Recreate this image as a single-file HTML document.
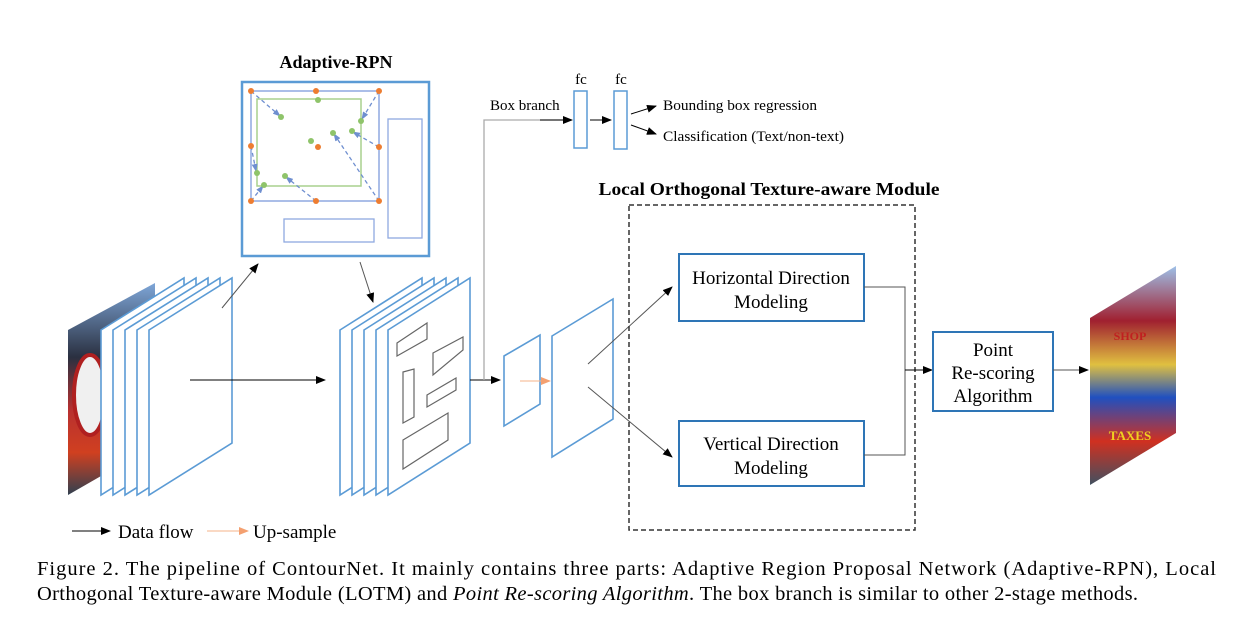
<!DOCTYPE html>
<html><head><meta charset="utf-8"><style>
html,body{margin:0;padding:0;background:#fff;}
svg{display:block;font-family:"Liberation Serif",serif;}
</style></head><body>
<svg width="1256" height="618" viewBox="0 0 1256 618" xmlns="http://www.w3.org/2000/svg">
<defs>
<marker id="ab" markerWidth="10" markerHeight="8" refX="9" refY="4" orient="auto" markerUnits="userSpaceOnUse"><path d="M0,0 L10,4 L0,8 z" fill="#000"/></marker>
<marker id="ao" markerWidth="10" markerHeight="8" refX="9" refY="4" orient="auto" markerUnits="userSpaceOnUse"><path d="M0,0 L10,4 L0,8 z" fill="#f4a070"/></marker>
<marker id="abl" markerWidth="8" markerHeight="6" refX="7" refY="3" orient="auto" markerUnits="userSpaceOnUse"><path d="M0,0 L8,3 L0,6 z" fill="#6f8fd0"/></marker>
<linearGradient id="ph1" x1="0" y1="0" x2="0" y2="1"><stop offset="0" stop-color="#7ea6d8"/><stop offset="0.35" stop-color="#2a3040"/><stop offset="0.6" stop-color="#b83030"/><stop offset="0.8" stop-color="#d04020"/><stop offset="1" stop-color="#304050"/></linearGradient>
<linearGradient id="ph2" x1="0" y1="0" x2="0" y2="1"><stop offset="0" stop-color="#9ec0e8"/><stop offset="0.25" stop-color="#a02030"/><stop offset="0.45" stop-color="#e0c040"/><stop offset="0.6" stop-color="#2050c0"/><stop offset="0.8" stop-color="#d03020"/><stop offset="1" stop-color="#405060"/></linearGradient>
</defs>

<polygon points="68,330 155,283 155,445 68,495" fill="url(#ph1)"/>
<ellipse cx="90" cy="395" rx="16" ry="40" fill="#f0f0f0" stroke="#b02020" stroke-width="4"/>
<g fill="#fff" stroke="#5b9bd5" stroke-width="1.6">
<polygon points="101,330 184,278 184,443 101,495"/>
<polygon points="113,330 196,278 196,443 113,495"/>
<polygon points="125,330 208,278 208,443 125,495"/>
<polygon points="137,330 220,278 220,443 137,495"/>
<polygon points="149,330 232,278 232,443 149,495"/>
</g>
<line x1="190" y1="380" x2="325" y2="380" stroke="#000" stroke-width="1" marker-end="url(#ab)"/>
<line x1="222" y1="308" x2="258" y2="264" stroke="#555" stroke-width="1" marker-end="url(#ab)"/>

<text x="336" y="68" text-anchor="middle" font-size="18" font-weight="bold">Adaptive-RPN</text>
<rect x="242" y="82" width="187" height="174" fill="#fff" stroke="#5b9bd5" stroke-width="2.5"/>
<rect x="251" y="91" width="128" height="110" fill="none" stroke="#8fa9e0" stroke-width="1.5"/>
<rect x="257" y="99" width="104" height="87" fill="none" stroke="#a9d18e" stroke-width="1.5"/>
<rect x="388" y="119" width="34" height="119" fill="none" stroke="#8fa9e0" stroke-width="1.3"/>
<rect x="284" y="219" width="90" height="23" fill="none" stroke="#8fa9e0" stroke-width="1.3"/>
<g stroke="#6f8fd0" stroke-width="1.3" stroke-dasharray="4,3" marker-end="url(#abl)">
<line x1="251" y1="91" x2="280" y2="116"/>
<line x1="379" y1="91" x2="362" y2="119"/>
<line x1="379" y1="147" x2="353" y2="132"/>
<line x1="379" y1="201" x2="334" y2="134"/>
<line x1="316" y1="201" x2="286" y2="177"/>
<line x1="251" y1="201" x2="263" y2="186"/>
<line x1="251" y1="146" x2="256" y2="171"/>
</g>
<g fill="#8fc46a">
<circle cx="281" cy="117" r="3"/><circle cx="318" cy="100" r="3"/><circle cx="361" cy="121" r="3"/><circle cx="311" cy="141" r="3"/><circle cx="333" cy="133" r="3"/><circle cx="352" cy="131" r="3"/><circle cx="257" cy="173" r="3"/><circle cx="264" cy="185" r="3"/><circle cx="285" cy="176" r="3"/>
</g>
<g fill="#ed7d31">
<circle cx="251" cy="91" r="3"/><circle cx="316" cy="91" r="3"/><circle cx="379" cy="91" r="3"/><circle cx="251" cy="146" r="3"/><circle cx="318" cy="147" r="3"/><circle cx="379" cy="147" r="3"/><circle cx="251" cy="201" r="3"/><circle cx="316" cy="201" r="3"/><circle cx="379" cy="201" r="3"/>
</g>
<line x1="360" y1="262" x2="373" y2="302" stroke="#555" stroke-width="1" marker-end="url(#ab)"/>

<g fill="#fff" stroke="#5b9bd5" stroke-width="1.6">
<polygon points="340,330 422,278 422,443 340,495"/>
<polygon points="352,330 434,278 434,443 352,495"/>
<polygon points="364,330 446,278 446,443 364,495"/>
<polygon points="376,330 458,278 458,443 376,495"/>
<polygon points="388,330 470,278 470,443 388,495"/>
</g>
<g fill="none" stroke="#666" stroke-width="1.2">
<polygon points="397,343 427,323 427,339 397,356"/>
<polygon points="433,353 463,337 463,350 433,375"/>
<polygon points="403,372 414,369 414,417 403,423"/>
<polygon points="427,395 456,378 456,390 427,407"/>
<polygon points="403,440 448,413 448,440 403,469"/>
</g>
<line x1="470" y1="380" x2="500" y2="380" stroke="#000" stroke-width="1" marker-end="url(#ab)"/>
<polyline points="484,380 484,120 570,120" fill="none" stroke="#aaa" stroke-width="1.3"/>
<line x1="540" y1="120" x2="572" y2="120" stroke="#000" stroke-width="1" marker-end="url(#ab)"/>
<text x="490" y="110" font-size="15">Box branch</text>
<text x="581" y="84" text-anchor="middle" font-size="15">fc</text>
<text x="621" y="84" text-anchor="middle" font-size="15">fc</text>
<rect x="574" y="91" width="13" height="57" fill="#fff" stroke="#5b9bd5" stroke-width="1.5"/>
<rect x="614" y="91" width="13" height="58" fill="#fff" stroke="#5b9bd5" stroke-width="1.5"/>
<line x1="590" y1="120" x2="611" y2="120" stroke="#000" stroke-width="1" marker-end="url(#ab)"/>
<line x1="631" y1="114" x2="656" y2="106" stroke="#000" stroke-width="1" marker-end="url(#ab)"/>
<line x1="631" y1="125" x2="656" y2="134" stroke="#000" stroke-width="1" marker-end="url(#ab)"/>
<text x="663" y="110" font-size="15" textLength="154" lengthAdjust="spacingAndGlyphs">Bounding box regression</text>
<text x="663" y="141" font-size="15" textLength="181" lengthAdjust="spacingAndGlyphs">Classification (Text/non-text)</text>

<polygon points="504,356 540,335 540,404 504,426" fill="#fff" stroke="#5b9bd5" stroke-width="1.6"/>
<polygon points="552,336 613,299 613,419 552,457" fill="#fff" stroke="#5b9bd5" stroke-width="1.6"/>
<line x1="520" y1="381" x2="550" y2="381" stroke="#f4b38a" stroke-width="1" marker-end="url(#ao)"/>
<line x1="588" y1="364" x2="672" y2="287" stroke="#555" stroke-width="1" marker-end="url(#ab)"/>
<line x1="588" y1="387" x2="672" y2="457" stroke="#555" stroke-width="1" marker-end="url(#ab)"/>

<text x="769" y="195" text-anchor="middle" font-size="18" font-weight="bold" textLength="341" lengthAdjust="spacingAndGlyphs">Local Orthogonal Texture-aware Module</text>
<rect x="629" y="205" width="286" height="325" fill="none" stroke="#333" stroke-width="1.5" stroke-dasharray="5,3"/>
<rect x="679" y="254" width="185" height="67" fill="#fff" stroke="#2e75b6" stroke-width="2"/>
<text x="771" y="284" text-anchor="middle" font-size="19">Horizontal Direction</text>
<text x="771" y="308" text-anchor="middle" font-size="19">Modeling</text>
<rect x="679" y="421" width="185" height="65" fill="#fff" stroke="#2e75b6" stroke-width="2"/>
<text x="771" y="450" text-anchor="middle" font-size="19">Vertical Direction</text>
<text x="771" y="474" text-anchor="middle" font-size="19">Modeling</text>
<polyline points="864,287 905,287 905,455 864,455" fill="none" stroke="#555" stroke-width="1"/>
<line x1="905" y1="370" x2="932" y2="370" stroke="#000" stroke-width="1" marker-end="url(#ab)"/>
<rect x="933" y="332" width="120" height="79" fill="#fff" stroke="#2e75b6" stroke-width="2"/>
<text x="993" y="356" text-anchor="middle" font-size="19">Point</text>
<text x="993" y="379" text-anchor="middle" font-size="19">Re-scoring</text>
<text x="993" y="402" text-anchor="middle" font-size="19">Algorithm</text>
<line x1="1053" y1="370" x2="1088" y2="370" stroke="#555" stroke-width="1" marker-end="url(#ab)"/>

<polygon points="1090,318 1176,266 1176,433 1090,485" fill="url(#ph2)"/>
<text x="1130" y="340" text-anchor="middle" font-size="12" font-weight="bold" fill="#c02020">SHOP</text>
<text x="1130" y="440" text-anchor="middle" font-size="13" font-weight="bold" fill="#f0d020">TAXES</text>

<line x1="72" y1="531" x2="110" y2="531" stroke="#000" stroke-width="1" marker-end="url(#ab)"/>
<text x="118" y="538" font-size="19">Data flow</text>
<line x1="207" y1="531" x2="248" y2="531" stroke="#f4b38a" stroke-width="1" marker-end="url(#ao)"/>
<text x="253" y="538" font-size="19">Up-sample</text>

<text x="37" y="575" font-size="20.5" textLength="1179" lengthAdjust="spacing">Figure 2.   The pipeline of ContourNet.  It mainly contains three parts: Adaptive Region Proposal Network (Adaptive-RPN), Local</text>
<text x="37" y="600" font-size="20.5" textLength="1101" lengthAdjust="spacing">Orthogonal Texture-aware Module (LOTM) and <tspan font-style="italic">Point Re-scoring Algorithm</tspan>. The box branch is similar to other 2-stage methods.</text>
</svg>
</body></html>
